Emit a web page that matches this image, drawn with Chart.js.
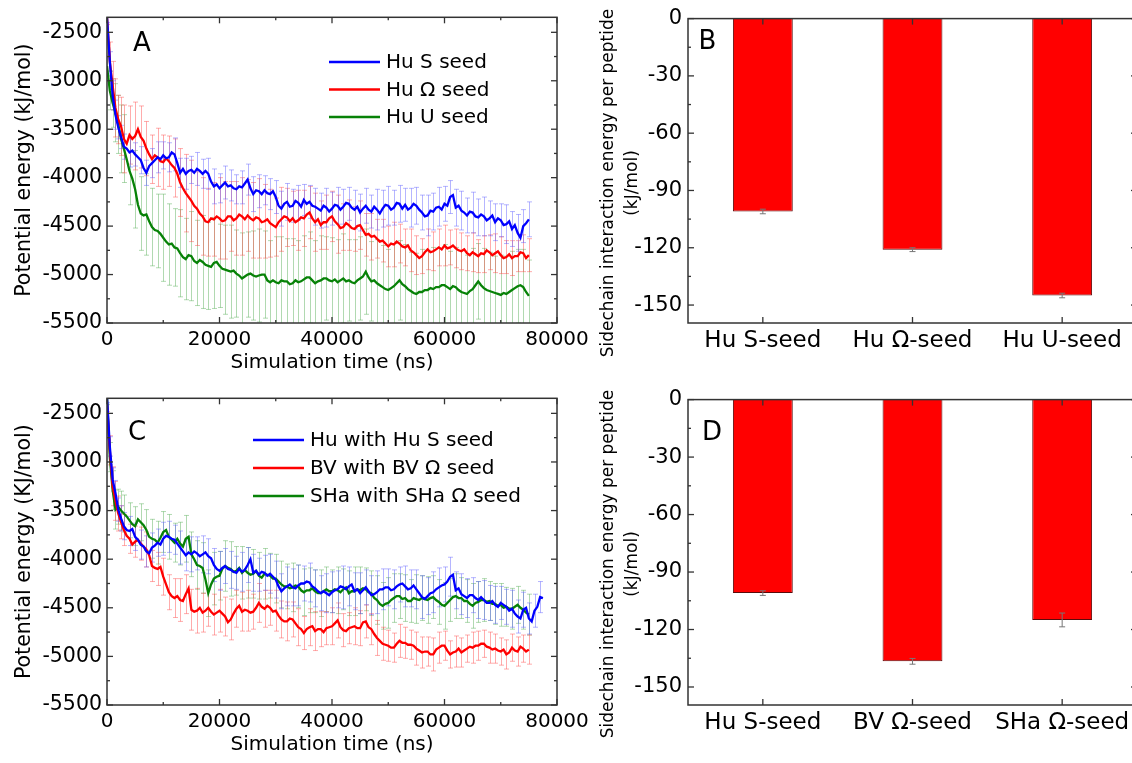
<!DOCTYPE html>
<html><head><meta charset="utf-8">
<script src="https://cdn.jsdelivr.net/npm/chart.js@4.4.1/dist/chart.umd.min.js"></script>
<style>
html,body{margin:0;padding:0;background:#fff;overflow:hidden}
body{width:1132px;height:763px;position:relative}
canvas{position:absolute;display:block}
</style></head><body>
<canvas id="cA" width="600" height="381" style="left:0;top:0"></canvas>
<canvas id="cB" width="560" height="381" style="left:580px;top:0"></canvas>
<canvas id="cC" width="600" height="382" style="left:0;top:381px"></canvas>
<canvas id="cD" width="560" height="382" style="left:580px;top:381px"></canvas>
<script>
// ---------- time axis (ns), 500 ns sampling ----------
const times = [
0,500,1000,1500,2000,2500,3000,3500,4000,4500,
5000,5500,6000,6500,7000,7500,8000,8500,9000,9500,
10000,10500,11000,11500,12000,12500,13000,13500,14000,14500,
15000,15500,16000,16500,17000,17500,18000,18500,19000,19500,
20000,20500,21000,21500,22000,22500,23000,23500,24000,24500,
25000,25500,26000,26500,27000,27500,28000,28500,29000,29500,
30000,30500,31000,31500,32000,32500,33000,33500,34000,34500,
35000,35500,36000,36500,37000,37500,38000,38500,39000,39500,
40000,40500,41000,41500,42000,42500,43000,43500,44000,44500,
45000,45500,46000,46500,47000,47500,48000,48500,49000,49500,
50000,50500,51000,51500,52000,52500,53000,53500,54000,54500,
55000,55500,56000,56500,57000,57500,58000,58500,59000,59500,
60000,60500,61000,61500,62000,62500,63000,63500,64000,64500,
65000,65500,66000,66500,67000,67500,68000,68500,69000,69500,
70000,70500,71000,71500,72000,72500,73000,73500,74000,74500,
75000];
const timesExtra = [75500,76000,76500,77000,77500];
// error bars are shown every 1000 ns
const errTimes = [0,500,1000,1500,2000,2500,3000,4000,5000,6000,7000,8000,9000,10000,11000,12000,13000,14000,15000,16000,17000,18000,19000,20000,21000,22000,23000,24000,25000,26000,27000,28000,29000,30000,31000,32000,33000,34000,35000,36000,37000,38000,39000,40000,41000,42000,43000,44000,45000,46000,47000,48000,49000,50000,51000,52000,53000,54000,55000,56000,57000,58000,59000,60000,61000,62000,63000,64000,65000,66000,67000,68000,69000,70000,71000,72000,73000,74000,75000];

// ---------- Panel A ----------
const labelsA = ['Hu S seed','Hu \u03A9 seed','Hu U seed'];
const huS_A = [
-2340,-2800,-3150,-3350,-3480,-3580,-3680,-3700,-3740,-3720,
-3760,-3790,-3820,-3900,-3950,-3880,-3850,-3820,-3790,-3810,
-3770,-3800,-3790,-3740,-3760,-3850,-3950,-3910,-3960,-3930,
-3920,-3950,-3910,-3930,-3960,-3930,-3960,-4040,-4090,-4070,
-4110,-4080,-4050,-4090,-4080,-4110,-4120,-4090,-4100,-4060,
-4020,-4110,-4170,-4130,-4140,-4170,-4130,-4160,-4170,-4140,
-4200,-4290,-4320,-4270,-4250,-4300,-4290,-4240,-4260,-4300,
-4230,-4270,-4250,-4290,-4300,-4320,-4340,-4290,-4310,-4350,
-4320,-4280,-4290,-4330,-4300,-4260,-4270,-4310,-4330,-4300,
-4360,-4320,-4290,-4330,-4350,-4300,-4330,-4370,-4320,-4280,
-4290,-4330,-4310,-4260,-4270,-4320,-4280,-4330,-4310,-4270,
-4290,-4330,-4360,-4400,-4390,-4340,-4350,-4310,-4300,-4330,
-4270,-4290,-4200,-4180,-4310,-4290,-4340,-4360,-4390,-4350,
-4360,-4400,-4410,-4380,-4400,-4440,-4420,-4390,-4460,-4420,
-4440,-4490,-4480,-4450,-4530,-4490,-4570,-4620,-4500,-4470,
-4430];
const huO_A = [
-2340,-2800,-3050,-3280,-3400,-3470,-3600,-3650,-3560,-3600,
-3570,-3500,-3580,-3620,-3700,-3760,-3810,-3770,-3790,-3830,
-3840,-3800,-3830,-3870,-3900,-3960,-4050,-4110,-4160,-4200,
-4240,-4290,-4320,-4370,-4400,-4450,-4460,-4420,-4430,-4400,
-4420,-4450,-4440,-4400,-4400,-4440,-4420,-4380,-4400,-4430,
-4390,-4420,-4440,-4410,-4420,-4460,-4450,-4430,-4470,-4490,
-4510,-4460,-4430,-4400,-4410,-4450,-4420,-4460,-4440,-4410,
-4420,-4380,-4360,-4420,-4460,-4430,-4490,-4460,-4460,-4420,
-4400,-4450,-4480,-4520,-4510,-4470,-4490,-4520,-4530,-4500,
-4490,-4540,-4590,-4580,-4610,-4600,-4630,-4660,-4650,-4680,
-4710,-4680,-4690,-4660,-4680,-4710,-4720,-4700,-4750,-4770,
-4800,-4830,-4810,-4770,-4740,-4770,-4760,-4740,-4720,-4740,
-4700,-4730,-4720,-4700,-4730,-4750,-4760,-4740,-4780,-4800,
-4770,-4790,-4810,-4780,-4790,-4750,-4770,-4800,-4780,-4760,
-4800,-4830,-4820,-4790,-4830,-4810,-4810,-4770,-4780,-4830,
-4800];
const huU_A = [
-2850,-3100,-3230,-3330,-3450,-3600,-3700,-3810,-3930,-4010,
-4120,-4280,-4370,-4390,-4380,-4450,-4510,-4540,-4550,-4580,
-4620,-4660,-4690,-4680,-4720,-4730,-4780,-4820,-4840,-4800,
-4810,-4860,-4880,-4850,-4870,-4900,-4910,-4920,-4880,-4870,
-4910,-4940,-4950,-4960,-4970,-4960,-4990,-5010,-5040,-5020,
-5000,-4990,-5010,-5020,-5010,-5000,-5000,-5060,-5080,-5060,
-5080,-5090,-5060,-5070,-5070,-5100,-5090,-5060,-5080,-5070,
-5050,-5030,-5030,-5060,-5090,-5070,-5060,-5040,-5040,-5060,
-5070,-5050,-5080,-5060,-5040,-5070,-5060,-5080,-5090,-5060,
-5040,-5020,-4970,-5030,-5070,-5060,-5090,-5110,-5130,-5150,
-5160,-5140,-5120,-5090,-5060,-5100,-5120,-5150,-5170,-5190,
-5200,-5180,-5180,-5160,-5160,-5140,-5150,-5130,-5130,-5110,
-5110,-5130,-5150,-5120,-5130,-5160,-5180,-5190,-5200,-5170,
-5150,-5110,-5070,-5110,-5140,-5160,-5170,-5180,-5190,-5200,
-5210,-5190,-5200,-5180,-5160,-5140,-5120,-5110,-5130,-5180,
-5220];
const huS_A_err = [60,100,150,150,120,120,130,150,120,140,130,150,160,140,150,170,150,160,140,170,150,160,180,150,170,160,150,170,160,180,170,150,160,170,180,190,170,180,160,170,190,180,200,170,190,180,170,200,190,180,170,210,190,200,180,190,170,200,190,180,210,190,200,180,170,190,200,180,210,190,200,180,190,170,200,180,190,170,180];
const huO_A_err = [80,200,250,300,250,300,350,300,350,320,280,250,300,280,260,300,350,400,420,380,400,350,380,420,400,360,380,400,370,390,410,380,350,300,330,300,280,310,290,270,300,250,280,260,300,240,260,230,250,220,240,200,220,210,230,200,190,220,200,180,210,200,190,210,180,200,190,180,200,170,190,180,200,190,170,180,160,190,170];
const huU_A_err = [100,200,250,300,300,350,350,350,400,380,420,400,380,450,420,400,450,420,460,440,480,450,470,430,460,480,450,470,440,460,480,450,430,470,450,440,460,430,450,470,440,460,430,450,440,460,420,450,430,440,410,450,430,420,440,410,430,400,420,440,410,430,400,420,390,410,430,400,420,390,410,400,380,410,390,400,380,390,370];

// ---------- Panel C ----------
const labelsC = ['Hu with Hu S seed','BV with BV \u03A9 seed','SHa with SHa \u03A9 seed'];
const hu_C = [
-2330,-2840,-3180,-3320,-3490,-3580,-3660,-3700,-3710,-3690,
-3770,-3800,-3850,-3870,-3920,-3940,-3880,-3860,-3830,-3850,
-3790,-3760,-3770,-3790,-3800,-3840,-3880,-3920,-3960,-3930,
-3950,-3920,-3940,-3970,-3950,-3930,-3970,-3990,-4060,-4100,
-4120,-4090,-4070,-4100,-4110,-4130,-4140,-4100,-4130,-4110,
-4060,-4000,-4140,-4120,-4160,-4130,-4140,-4170,-4150,-4180,
-4210,-4280,-4330,-4300,-4280,-4260,-4290,-4300,-4270,-4250,
-4250,-4230,-4240,-4280,-4300,-4330,-4350,-4330,-4350,-4370,
-4340,-4320,-4310,-4280,-4290,-4310,-4280,-4260,-4330,-4310,
-4350,-4320,-4290,-4330,-4370,-4360,-4340,-4310,-4310,-4290,
-4290,-4320,-4310,-4280,-4260,-4250,-4280,-4310,-4300,-4270,
-4310,-4350,-4390,-4410,-4380,-4350,-4340,-4310,-4290,-4270,
-4260,-4230,-4180,-4160,-4320,-4300,-4360,-4380,-4400,-4370,
-4370,-4400,-4420,-4390,-4420,-4450,-4450,-4430,-4470,-4490,
-4450,-4470,-4490,-4530,-4510,-4560,-4590,-4610,-4520,-4500,
-4610,-4640,-4530,-4490,-4390,-4400];
const bv_C = [
-2400,-2880,-3250,-3400,-3530,-3620,-3700,-3760,-3790,-3850,
-3820,-3800,-3840,-3870,-3900,-3960,-4070,-4090,-4100,-4080,
-4180,-4260,-4340,-4380,-4400,-4380,-4420,-4430,-4360,-4300,
-4520,-4540,-4530,-4500,-4550,-4530,-4500,-4540,-4570,-4550,
-4530,-4560,-4590,-4650,-4620,-4560,-4510,-4480,-4540,-4520,
-4530,-4550,-4540,-4500,-4450,-4490,-4510,-4480,-4500,-4540,
-4530,-4580,-4620,-4640,-4640,-4610,-4620,-4660,-4700,-4720,
-4760,-4720,-4700,-4690,-4740,-4720,-4720,-4750,-4710,-4700,
-4690,-4660,-4630,-4700,-4730,-4740,-4710,-4700,-4690,-4710,
-4710,-4650,-4640,-4700,-4720,-4770,-4810,-4840,-4870,-4880,
-4890,-4910,-4910,-4870,-4840,-4860,-4860,-4880,-4880,-4890,
-4920,-4940,-4960,-4950,-4950,-4980,-4980,-4930,-4910,-4890,
-4890,-4940,-4980,-4960,-4950,-4920,-4960,-4940,-4920,-4900,
-4910,-4890,-4890,-4870,-4870,-4900,-4910,-4930,-4920,-4940,
-4950,-4930,-4980,-4960,-4910,-4940,-4950,-4900,-4920,-4950,
-4930];
const sha_C = [
-2330,-2950,-3290,-3490,-3460,-3500,-3530,-3560,-3600,-3640,
-3660,-3590,-3620,-3650,-3700,-3770,-3790,-3800,-3830,-3780,
-3720,-3700,-3770,-3800,-3830,-3790,-3840,-3870,-3790,-3770,
-3950,-4000,-4060,-4070,-4090,-4210,-4350,-4260,-4200,-4180,
-4170,-4100,-4070,-4090,-4100,-4130,-4120,-4090,-4140,-4110,
-4140,-4160,-4150,-4120,-4170,-4190,-4150,-4160,-4170,-4200,
-4200,-4230,-4260,-4280,-4280,-4300,-4290,-4270,-4280,-4320,
-4340,-4320,-4320,-4300,-4330,-4350,-4350,-4330,-4310,-4330,
-4330,-4310,-4320,-4340,-4310,-4290,-4350,-4330,-4330,-4310,
-4320,-4300,-4310,-4340,-4350,-4400,-4420,-4460,-4480,-4460,
-4450,-4420,-4400,-4380,-4380,-4410,-4400,-4430,-4430,-4400,
-4410,-4420,-4400,-4410,-4420,-4400,-4390,-4420,-4440,-4470,
-4480,-4450,-4420,-4390,-4380,-4400,-4400,-4430,-4430,-4460,
-4480,-4450,-4440,-4420,-4420,-4440,-4430,-4460,-4460,-4480,
-4470,-4500,-4490,-4510,-4510,-4490,-4470,-4500,-4520,-4550,
-4570];
const hu_C_err = [60,100,120,130,120,130,140,150,140,150,160,150,140,170,160,150,170,160,180,170,190,180,170,200,180,190,170,200,180,190,170,180,200,190,180,200,190,210,180,200,190,180,200,210,190,220,200,190,210,180,200,220,210,190,200,180,210,190,200,220,190,210,200,180,200,190,210,200,180,190,200,180,190,170,180,190,170,180,160];
const bv_C_err = [80,150,200,200,180,170,160,150,160,170,180,160,170,190,180,200,220,200,210,230,200,190,210,220,200,210,190,200,210,180,200,190,180,210,190,200,180,190,170,190,200,180,170,190,180,170,160,190,180,170,160,180,170,160,150,170,160,150,170,160,150,170,160,150,140,160,150,140,160,150,140,160,150,140,150,140,150,140,150];
const sha_C_err = [80,150,200,200,180,200,190,180,200,190,210,200,220,210,230,200,220,240,230,250,260,240,270,250,260,280,250,270,260,250,240,260,230,250,240,230,250,220,240,230,220,240,230,220,240,210,230,250,240,220,230,250,240,260,250,230,240,220,250,230,240,220,230,240,220,230,210,220,230,210,220,200,210,220,200,210,190,200,210];
const huExtraErrTimes = [76000,77000];
const huExtraErr = [170,160];

// ---------- ticks for line panels ----------
const xTicksLine = [0,20000,40000,60000,80000];
const xMinorLine = [10000,30000,50000,70000];
const yTicksLine = [-5500,-5000,-4500,-4000,-3500,-3000,-2500];
const yMinorLine = [-5250,-4750,-4250,-3750,-3250,-2750];

// ---------- Panels B and D (bars) ----------
const catsB = ['Hu S-seed','Hu \u03A9-seed','Hu U-seed'];
const valsB = [-101,-121,-145];
const errsB = [1.2,1.0,1.2];
const catsD = ['Hu S-seed','BV \u03A9-seed','SHa \u03A9-seed'];
const valsD = [-101,-136.6,-115];
const errsD = [1.2,1.5,3.6];
const yTicksBar = [-150,-120,-90,-60,-30,0];
const yMinorBar = [-135,-105,-75,-45,-15];
const barTitle = ['Sidechain interaction energy per peptide', '(kJ/mol)'];

// ---------- drawing helpers ----------
const FONT = 'DejaVu Sans';
const lineColors = ['#0000ff','#ff0000','#078207'];
const errColors = ['rgba(90,90,255,0.45)','rgba(255,70,70,0.45)','rgba(60,160,60,0.40)'];

const deco = {
  id: 'deco',
  beforeDatasetsDraw(chart, args, o) {
    if (!o.errors) return;
    const {ctx, chartArea: a, scales: {x, y}} = chart;
    ctx.save();
    ctx.beginPath(); ctx.rect(a.left, a.top, a.right - a.left, a.bottom - a.top); ctx.clip();
    ctx.lineWidth = 1;
    for (let i = chart.data.datasets.length - 1; i >= 0; i--) {
      const ds = chart.data.datasets[i], E = o.errors[i];
      const byX = new Map(ds.data.map(p => [p.x, p.y]));
      ctx.strokeStyle = errColors[i];
      E.t.forEach((t, j) => {
        if (j >= E.e.length || !byX.has(t)) return;
        const v = byX.get(t), e = E.e[j];
        const px = Math.round(x.getPixelForValue(t)) + 0.5;
        const y1 = y.getPixelForValue(v + e), y2 = y.getPixelForValue(v - e);
        ctx.beginPath();
        ctx.moveTo(px, y1); ctx.lineTo(px, y2);
        ctx.moveTo(px - 2.5, y1); ctx.lineTo(px + 2.5, y1);
        ctx.moveTo(px - 2.5, y2); ctx.lineTo(px + 2.5, y2);
        ctx.stroke();
      });
    }
    ctx.restore();
  },
  afterDraw(chart, args, o) {
    const {ctx, chartArea: a, scales: {x, y}} = chart;
    ctx.save();
    if (o.barErr) {
      const meta = chart.getDatasetMeta(0);
      ctx.strokeStyle = '#777'; ctx.lineWidth = 1;
      meta.data.forEach((el, j) => {
        const v = chart.data.datasets[0].data[j], e = o.barErr[j];
        const y1 = y.getPixelForValue(v + e), y2 = y.getPixelForValue(v - e);
        ctx.beginPath();
        ctx.moveTo(el.x, y1); ctx.lineTo(el.x, y2);
        ctx.moveTo(el.x - 3, y1); ctx.lineTo(el.x + 3, y1);
        ctx.moveTo(el.x - 3, y2); ctx.lineTo(el.x + 3, y2);
        ctx.stroke();
      });
    }
    ctx.strokeStyle = '#333'; ctx.lineWidth = 1.5;
    ctx.strokeRect(a.left, a.top, a.right - a.left, a.bottom - a.top);
    ctx.lineWidth = 1.3;
    const seg = (x1, y1, x2, y2) => { ctx.beginPath(); ctx.moveTo(x1, y1); ctx.lineTo(x2, y2); ctx.stroke(); };
    o.yMajor.forEach(v => { const p = y.getPixelForValue(v); seg(a.left, p, a.left + 6, p); seg(a.right, p, a.right - 6, p); });
    o.yMinor.forEach(v => { const p = y.getPixelForValue(v); seg(a.left, p, a.left + 3, p); seg(a.right, p, a.right - 3, p); });
    if (o.xMajor) {
      o.xMajor.forEach(v => { const p = x.getPixelForValue(v); seg(p, a.bottom, p, a.bottom - 6); seg(p, a.top, p, a.top + 6); });
      o.xMinor.forEach(v => { const p = x.getPixelForValue(v); seg(p, a.bottom, p, a.bottom - 3); seg(p, a.top, p, a.top + 3); });
    } else {
      x.ticks.forEach((t, i) => { const p = x.getPixelForTick(i); seg(p, a.bottom, p, a.bottom - 6); seg(p, a.top, p, a.top + 6); });
    }
    ctx.fillStyle = '#000';
    ctx.font = '26px "' + FONT + '"';
    ctx.textAlign = 'center'; ctx.textBaseline = 'middle';
    ctx.fillText(o.letter, o.letterX, o.letterY);
    // rotated multi-line axis title (bar panels)
    if (o.title) {
      const T = o.title;
      ctx.font = T.size + 'px "' + FONT + '"';
      ctx.textAlign = 'center'; ctx.textBaseline = 'middle';
      T.lines.forEach((s, i) => {
        ctx.save();
        ctx.translate(T.x + i * T.dx, T.y);
        ctx.rotate(-Math.PI / 2);
        ctx.fillText(s, 0, 0);
        ctx.restore();
      });
    }
    if (o.legend) {
      const L = o.legend;
      ctx.font = '20px "' + FONT + '"';
      ctx.textAlign = 'left';
      chart.data.datasets.forEach((ds, i) => {
        const yy = L.y + i * L.dy;
        ctx.strokeStyle = ds.borderColor; ctx.lineWidth = 2.5;
        seg(L.x, yy, L.x + L.len, yy);
        ctx.fillStyle = '#000';
        ctx.fillText(ds.label, L.x + L.len + 6, yy + 1);
      });
    }
    ctx.restore();
  }
};

function lineConfig(labels, vals, tms, errs, yTitle, letter, lx, ly, legend) {
  return {
    type: 'line',
    data: { datasets: vals.map((v, i) => ({
      label: labels[i],
      data: v.map((val, j) => ({ x: tms[i][j], y: val })),
      borderColor: lineColors[i], borderWidth: 2.3, pointRadius: 0, tension: 0, fill: false
    })) },
    options: {
      responsive: false, animation: false, events: [],
      layout: { padding: { top: 17, right: 43, left: 0, bottom: 0 } },
      plugins: { legend: { display: false }, tooltip: { enabled: false },
        deco: { errors: errs, yMajor: yTicksLine, yMinor: yMinorLine, xMajor: xTicksLine, xMinor: xMinorLine, letter: letter, letterX: lx, letterY: ly, legend: legend } },
      scales: {
        x: { type: 'linear', min: 0, max: 80000,
          afterBuildTicks: s => { s.ticks = xTicksLine.map(v => ({ value: v })); },
          afterFit: s => { s.height = 58; },
          grid: { display: false, drawTicks: false }, border: { display: false },
          ticks: { font: { family: FONT, size: 20 }, color: '#000', padding: 5, maxRotation: 0, autoSkip: false, callback: v => String(v) },
          title: { display: true, text: 'Simulation time (ns)', font: { family: FONT, size: 20 }, color: '#000', padding: { top: 0, bottom: 6 } } },
        y: { min: -5500, max: -2345,
          afterBuildTicks: s => { s.ticks = yTicksLine.map(v => ({ value: v })); },
          afterFit: s => { s.width = 107; },
          grid: { display: false, drawTicks: false }, border: { display: false },
          ticks: { font: { family: FONT, size: 20.5 }, color: '#000', padding: 5, autoSkip: false, callback: v => String(v) },
          title: { display: true, text: yTitle, font: { family: FONT, size: 20.5 }, color: '#000', padding: { top: 12, bottom: 0 } } }
      }
    },
    plugins: [deco]
  };
}

function barConfig(cats, vals, errs, letter, lx, ly) {
  return {
    type: 'bar',
    data: { labels: cats, datasets: [{ data: vals, backgroundColor: '#ff0000', borderColor: '#5a0a0a', borderWidth: 1, categoryPercentage: 1, barPercentage: 0.4 }] },
    options: {
      responsive: false, animation: false, events: [],
      layout: { padding: { top: 17, right: 3, left: 0, bottom: 0 } },
      plugins: { legend: { display: false }, tooltip: { enabled: false },
        deco: { barErr: errs, yMajor: yTicksBar, yMinor: yMinorBar, letter: letter, letterX: lx, letterY: ly,
          title: { lines: barTitle, x: 29, dx: 24, y: 183, size: 17 } } },
      scales: {
        x: { type: 'category', offset: true,
          afterFit: s => { s.height = 58; },
          grid: { display: false, drawTicks: false }, border: { display: false },
          ticks: { font: { family: FONT, size: 23 }, color: '#000', padding: 4, maxRotation: 0, autoSkip: false } },
        y: { min: -159.4, max: 0,
          afterBuildTicks: s => { s.ticks = yTicksBar.map(v => ({ value: v })); },
          afterFit: s => { s.width = 108; },
          grid: { display: false, drawTicks: false }, border: { display: false },
          ticks: { font: { family: FONT, size: 21 }, color: '#000', padding: 6, autoSkip: false, callback: v => String(v) },
          title: { display: false } }
      }
    },
    plugins: [deco]
  };
}

new Chart(document.getElementById('cA'), lineConfig(labelsA, [huS_A, huO_A, huU_A], [times, times, times],
  [{ t: errTimes, e: huS_A_err }, { t: errTimes, e: huO_A_err }, { t: errTimes, e: huU_A_err }],
  'Potential energy (kJ/mol)', 'A', 142, 44, { x: 329, y: 62, dy: 27.5, len: 51 }));
new Chart(document.getElementById('cC'), lineConfig(labelsC, [hu_C, bv_C, sha_C], [times.concat(timesExtra), times, times],
  [{ t: errTimes.concat(huExtraErrTimes), e: hu_C_err.concat(huExtraErr) }, { t: errTimes, e: bv_C_err }, { t: errTimes, e: sha_C_err }],
  'Potential energy (KJ/mol)', 'C', 137, 52, { x: 253, y: 59, dy: 28, len: 51 }));
new Chart(document.getElementById('cB'), barConfig(catsB, valsB, errsB, 'B', 127.5, 42));
new Chart(document.getElementById('cD'), barConfig(catsD, valsD, errsD, 'D', 132, 52));
</script></body></html>
